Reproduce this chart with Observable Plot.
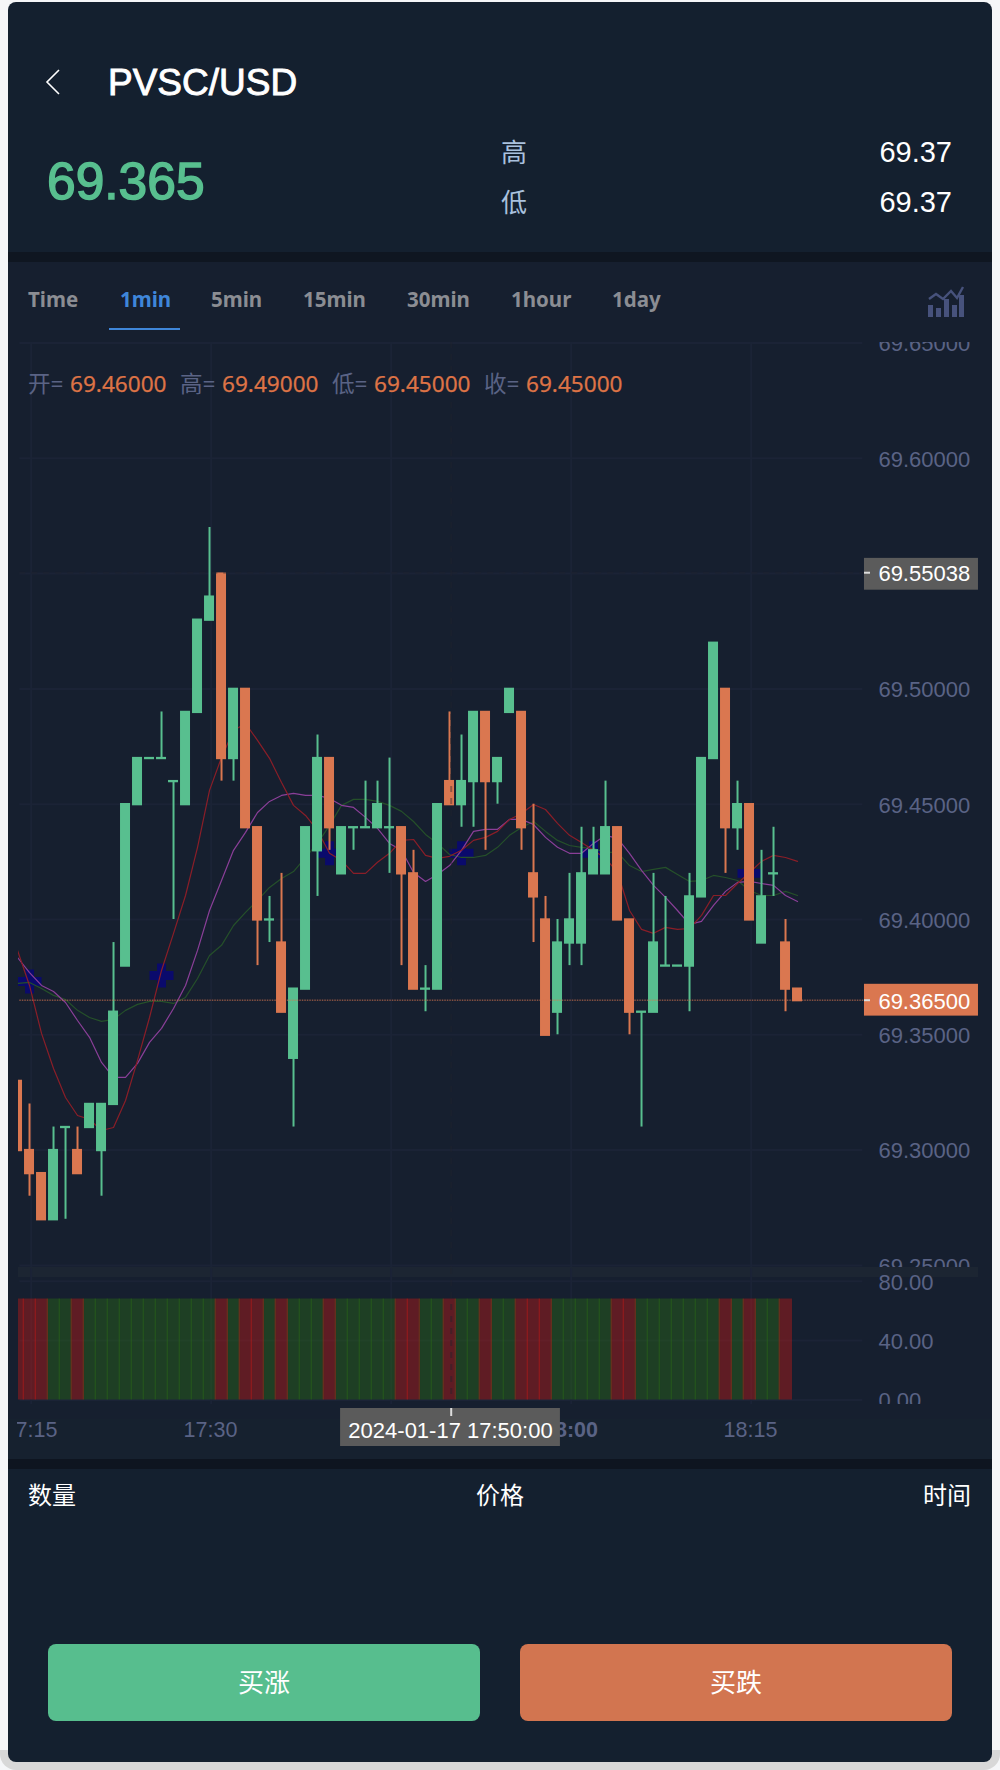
<!DOCTYPE html>
<html><head><meta charset="utf-8">
<script src="https://cdn.jsdelivr.net/npm/d3@7"></script>
<script src="https://cdn.jsdelivr.net/npm/@observablehq/plot@0.6"></script>
<style>
html,body{margin:0;padding:0;background:#f5f6f8;width:1000px;height:1770px;overflow:hidden}
#page{position:relative;width:1000px;height:1770px;font-family:"Liberation Sans","Noto Sans CJK SC",sans-serif;color:#fff;overflow:hidden}
.abs{position:absolute}
.t{position:absolute;transform:translateY(-50%);white-space:nowrap;line-height:1}
.tab{font-family:"Noto Sans","Noto Sans CJK SC";font-weight:700;font-size:20.5px;color:#8b8d93}
.o{font-family:"Noto Sans","Noto Sans CJK SC";font-size:22.6px;color:#dd7346;-webkit-text-stroke:.25px #dd7346}
.g{font-family:"Noto Sans","Noto Sans CJK SC";font-size:22.6px;color:#5a6385}
svg{overflow:hidden}
</style></head><body>
<div id="page">
<div class="abs" style="left:0;top:1750px;width:1000px;height:20px;background:#d8d8d8;border-radius:0 0 16px 16px"></div>
<div class="abs" id="card" style="left:8px;top:2px;width:984px;height:1760px;background:#14202f;border-radius:8px;overflow:hidden">
  <div class="abs" style="left:0;top:260px;width:984px;height:1197px;background:#161f2f"></div>
  <div class="abs" style="left:0;top:1417px;width:984px;height:40px;background:#16212f"></div>
  <div class="abs" style="left:0;top:250px;width:984px;height:10px;background:#0f1621"></div>
  <div class="abs" style="left:0;top:1457px;width:984px;height:10px;background:#0e1520"></div>
</div>
<svg class="abs" style="left:44px;top:68px" width="20" height="28" viewBox="0 0 20 28"><path d="M15 2 L3 14 L15 26" fill="none" stroke="#fff" stroke-width="1.6"/></svg>
<div class="t" style="left:108px;top:82px;font-size:37px;font-weight:400;-webkit-text-stroke:.9px #fff">PVSC/USD</div>
<div class="t" style="left:47px;top:182px;font-size:51.5px;font-weight:400;color:#58bf8f;-webkit-text-stroke:1.5px #58bf8f">69.365</div>
<div class="t" style="left:501px;top:151px;font-size:26px;color:#a9c1de;font-family:'Noto Sans CJK SC'">高</div>
<div class="t" style="left:501px;top:201px;font-size:26px;color:#a9c1de;font-family:'Noto Sans CJK SC'">低</div>
<div class="t" style="right:48px;top:152px;font-size:29px">69.37</div>
<div class="t" style="right:48px;top:202px;font-size:29px">69.37</div>
<div class="t tab" style="left:28px;top:299px">Time</div>
<div class="t tab" style="left:120px;top:299px;color:#3f86d9">1min</div>
<div class="t tab" style="left:211px;top:299px">5min</div>
<div class="t tab" style="left:303px;top:299px">15min</div>
<div class="t tab" style="left:407px;top:299px">30min</div>
<div class="t tab" style="left:511px;top:299px">1hour</div>
<div class="t tab" style="left:612px;top:299px">1day</div>
<div class="abs" style="left:109px;top:328px;width:71px;height:2px;background:#3f86d9"></div>
<svg class="abs" style="left:926px;top:284px" width="40" height="36" viewBox="0 0 40 36"><g fill="#47527c"><rect x="2" y="21" width="5" height="12"/><rect x="10" y="24" width="5" height="9"/><rect x="18" y="15" width="5" height="18"/><rect x="26" y="21" width="5" height="12"/><rect x="33" y="11" width="5" height="22"/></g><path d="M3 15 L10 10 L17 15 L25 7 L31 14 L37 3" fill="none" stroke="#47527c" stroke-width="2.4"/></svg>
<div id="main"></div><div id="band" class="abs" style="left:18px;top:1267px;width:960px;height:10px;background:#1c2532"></div><div id="sub"></div><div id="time"></div>
<div class="t g" style="left:28px;top:384px">开=</div><div class="t o" style="left:70px;top:384px">69.46000</div>
<div class="t g" style="left:180px;top:384px">高=</div><div class="t o" style="left:222px;top:384px">69.49000</div>
<div class="t g" style="left:332px;top:384px">低=</div><div class="t o" style="left:374px;top:384px">69.45000</div>
<div class="t g" style="left:484px;top:384px">收=</div><div class="t o" style="left:526px;top:384px">69.45000</div>
<div class="t" style="left:28px;top:1494px;font-size:24px;font-family:'Noto Sans CJK SC'">数量</div>
<div class="t" style="left:476px;top:1494px;font-size:24px;font-family:'Noto Sans CJK SC'">价格</div>
<div class="t" style="right:29px;top:1494px;font-size:24px;font-family:'Noto Sans CJK SC'">时间</div>
<div class="abs" style="left:48px;top:1644px;width:432px;height:77px;background:#57be8e;border-radius:8px;display:flex;align-items:center;justify-content:center;font-size:26px;padding-bottom:0;font-family:'Noto Sans CJK SC'"><span style="position:relative;top:-2px">买涨</span></div>
<div class="abs" style="left:520px;top:1644px;width:432px;height:77px;background:#d27550;border-radius:8px;display:flex;align-items:center;justify-content:center;font-size:26px;font-family:'Noto Sans CJK SC'"><span style="position:relative;top:-2px">买跌</span></div>
</div>
<script>
// minutes after 17:15 for each candle index start at -1
const opens=[69.33,69.30,69.29,69.27,69.31,69.30,69.31,69.30,69.32,69.38,69.45,69.47,69.47,69.46,69.45,69.49,69.53,69.55,69.47,69.50,69.44,69.40,69.39,69.34,69.37,69.43,69.47,69.42,69.44,69.44,69.44,69.44,69.44,69.42,69.37,69.37,69.46,69.45,69.46,69.49,69.46,69.49,69.49,69.42,69.40,69.36,69.39,69.39,69.42,69.42,69.44,69.40,69.36,69.36,69.38,69.38,69.38,69.41,69.47,69.50,69.44,69.45,69.39,69.42,69.39,69.37];
const closes=[69.30,69.29,69.27,69.30,69.31,69.29,69.32,69.32,69.36,69.45,69.47,69.47,69.47,69.46,69.49,69.53,69.54,69.47,69.50,69.44,69.40,69.40,69.36,69.37,69.44,69.47,69.44,69.44,69.44,69.44,69.45,69.44,69.42,69.37,69.37,69.45,69.45,69.46,69.49,69.46,69.47,69.50,69.44,69.41,69.35,69.39,69.40,69.42,69.43,69.44,69.40,69.36,69.36,69.39,69.38,69.38,69.41,69.47,69.52,69.44,69.45,69.40,69.41,69.42,69.37,69.365];
const highs=[69.33,69.32,69.29,69.31,69.31,69.31,69.32,69.32,69.39,69.45,69.47,69.47,69.49,69.46,69.49,69.53,69.57,69.55,69.50,69.50,69.44,69.41,69.42,69.37,69.44,69.48,69.47,69.44,69.44,69.46,69.46,69.47,69.44,69.43,69.38,69.45,69.49,69.48,69.49,69.49,69.47,69.50,69.49,69.45,69.41,69.40,69.42,69.44,69.44,69.46,69.44,69.40,69.36,69.42,69.41,69.38,69.42,69.47,69.52,69.50,69.46,69.45,69.43,69.44,69.40,69.37];
const lows=[69.30,69.28,69.27,69.27,69.27,69.29,69.31,69.28,69.32,69.38,69.45,69.47,69.47,69.40,69.45,69.49,69.53,69.46,69.46,69.44,69.38,69.39,69.36,69.31,69.37,69.41,69.43,69.42,69.43,69.44,69.44,69.42,69.38,69.37,69.36,69.37,69.45,69.44,69.44,69.43,69.45,69.49,69.43,69.39,69.35,69.35,69.38,69.38,69.42,69.42,69.40,69.35,69.31,69.36,69.38,69.38,69.36,69.41,69.47,69.42,69.43,69.40,69.39,69.41,69.36,69.365];
const maRed=[69.3866,69.3714,69.3506,69.3354,69.3228,69.3150,69.3133,69.3085,69.3098,69.3215,69.3389,69.3575,69.3779,69.3940,69.4104,69.4313,69.4560,69.4703,69.4820,69.4850,69.4777,69.4699,69.4594,69.4495,69.4451,69.4386,69.4287,69.4256,69.4200,69.4200,69.4248,69.4287,69.4343,69.4347,69.4278,69.4265,69.4274,69.4300,69.4343,69.4356,69.4382,69.4434,69.4460,69.4499,69.4477,69.4417,69.4365,69.4334,69.4300,69.4265,69.4204,69.4039,69.3957,69.3940,69.3966,69.3957,69.3961,69.4018,69.4104,69.4104,69.4156,69.4204,69.4252,69.4278,69.4269,69.4252];
const maPurple=[69.3835,69.3770,69.3714,69.3688,69.3640,69.3562,69.3489,69.3380,69.3315,69.3315,69.3376,69.3467,69.3528,69.3614,69.3714,69.3866,69.4039,69.4169,69.4300,69.4378,69.4464,69.4512,69.4538,69.4547,69.4538,69.4538,69.4525,69.4495,69.4486,69.4443,69.4395,69.4330,69.4300,69.4204,69.4165,69.4195,69.4234,69.4300,69.4382,69.4391,69.4391,69.4434,69.4434,69.4412,69.4356,69.4313,69.4287,69.4287,69.4330,69.4365,69.4352,69.4287,69.4213,69.4148,69.4096,69.4039,69.3979,69.3992,69.4061,69.4122,69.4161,69.4165,69.4156,69.4148,69.4104,69.4078];
const maGreen=[69.3723,69.3727,69.3701,69.3671,69.3653,69.3606,69.3575,69.3558,69.3567,69.3606,69.3632,69.3645,69.3645,69.3636,69.3662,69.3744,69.3844,69.3888,69.3974,69.4031,69.4083,69.4139,69.4178,69.4208,69.4269,69.4330,69.4408,69.4495,69.4521,69.4521,69.4512,69.4495,69.4469,69.4425,69.4369,69.4330,69.4282,69.4269,69.4269,69.4278,69.4313,69.4365,69.4399,69.4425,69.4382,69.4343,69.4321,69.4313,69.4308,69.4291,69.4291,69.4234,69.4208,69.4217,69.4226,69.4195,69.4165,69.4169,69.4191,69.4182,69.4169,69.4126,69.4104,69.4104,69.4122,69.4104];
const indicator=[68,68,68,68,68,68,68,68,68,68,68,68,68,68,68,68,68,68,68,68,68,68,68,68,68,68,68,68,68,68,68,68,68,68,68,68,68,68,68,68,68,68,68,68,68,68,68,68,68,68,68,68,68,68,68,68,68,68,68,68,68,68,68,68,68];
const crossIndex=[0,11,25,36,47,60];
const crossPrice=[69.3731,69.3757,69.4287,69.4287,69.4287,69.4200];
const priceTicks=[69.25,69.30,69.35,69.40,69.45,69.50,69.55,69.60,69.65];
const priceLabels=[69.25,69.30,69.35,69.40,69.45,69.50,69.60,69.65];
const indicatorTicks=[0,40,80];
const timeTicks=[0,15,30,45,60];
const timeLabels=["17:15","17:30","17:45","18:00","18:15"];
const crosshairMinute=35, crosshairPrice=69.55038, lastPrice=69.365;
const crosshairLabel="2024-01-17 17:50:00";

const UP="#58bf8f",DOWN="#da7750",GRID="#1b2336",AX="#5a6385",NAVY="#0a0a6c",CROSS="#20242e";
const SHIFT=0.14, FONT='"Liberation Sans","Noto Sans CJK SC",sans-serif';
const candles=opens.map((o,k)=>({i:k-1-SHIFT,o,c:closes[k],h:highs[k],l:lows[k]}));
const isUp=d=>d.c>=d.o;
const xDomain=[-1,79];
const place=(left,top)=>({position:"absolute",left:left+"px",top:top+"px",background:"transparent",fontFamily:FONT,overflow:"hidden"});
const series=(vals)=>vals.map((v,k)=>({i:k-1-SHIFT,v}));
const gridEnd=69.3, gridStart=-0.95, tagA=69.44, tagB=78.94, labelX=70.6;
const plus={draw(c,size){const r=Math.sqrt(size/Math.PI),t=r/2.7;
  c.moveTo(-t,-r);c.lineTo(t,-r);c.lineTo(t,-t);c.lineTo(r,-t);c.lineTo(r,t);c.lineTo(t,t);c.lineTo(t,r);c.lineTo(-t,r);c.lineTo(-t,t);c.lineTo(-r,t);c.lineTo(-r,-t);c.lineTo(-t,-t);c.closePath();}};

const candleMarks=(color,test)=>[
  Plot.ruleX(candles,{filter:test,x:"i",y1:"l",y2:"h",stroke:color,strokeWidth:2}),
  Plot.rect(candles,{filter:test,x1:d=>d.i-5/12,x2:d=>d.i+5/12,y1:d=>Math.min(d.o,d.c)-0.0007,y2:d=>Math.max(d.o,d.c)+0.0003,fill:color})
];
const main=Plot.plot({
  width:962,height:926,marginTop:0,marginBottom:0,marginLeft:0,marginRight:102,
  style:place(18,342),
  x:{domain:xDomain,range:[0.7,960.7],axis:null},
  y:{domain:[69.25,69.65],range:[922.9,0.5],axis:null},
  marks:[
    Plot.ruleY(priceTicks,{x1:gridStart,x2:gridEnd,stroke:GRID,strokeWidth:2}),
    Plot.ruleX(timeTicks,{stroke:GRID,strokeWidth:2}),
    Plot.axisY({anchor:"right",ticks:priceLabels,tickFormat:d=>d.toFixed(5),tickSize:0,tickPadding:0,label:null,fontSize:22,fill:AX,textAnchor:"start",dy:1.3}),
    Plot.dot(crossIndex.map((c,k)=>({i:c-SHIFT,v:crossPrice[k]})),{x:"i",y:"v",r:12,symbol:plus,fill:NAVY,stroke:"none"}),
    Plot.line(series(maGreen),{x:"i",y:"v",stroke:"#25502a",strokeWidth:1.2}),
    Plot.line(series(maPurple),{x:"i",y:"v",stroke:"#8a3f98",strokeWidth:1.2}),
    Plot.line(series(maRed),{x:"i",y:"v",stroke:"#8a1e28",strokeWidth:1.2}),
    ...candleMarks(UP,isUp),
    ...candleMarks(DOWN,d=>!isUp(d)),
    Plot.ruleY([lastPrice],{x1:gridStart,x2:tagA,stroke:"#da7750",strokeOpacity:.55,strokeWidth:1.4,strokeDasharray:"1.5,1"}),
    Plot.ruleY([crosshairPrice],{x1:gridStart,x2:tagA,stroke:CROSS,strokeOpacity:.4,strokeWidth:2,strokeDasharray:"6,6"}),
    Plot.ruleX([crosshairMinute],{stroke:CROSS,strokeOpacity:.4,strokeWidth:2,strokeDasharray:"6,6"}),
    Plot.rect([crosshairPrice],{x1:tagA,x2:tagB,y1:69.5428,y2:69.5566,fill:"#5b5b5b"}),
    Plot.rect([lastPrice],{x1:tagA,x2:tagB,y1:69.3581,y2:69.3719,fill:"#da7750"}),
    Plot.ruleY([crosshairPrice,lastPrice],{x1:tagA,x2:tagA+0.5,stroke:"#ddd",strokeWidth:2}),
    Plot.text([crosshairPrice,lastPrice],{x:labelX,y:d=>d,text:d=>d.toFixed(5),fill:"#fff",fontSize:22,textAnchor:"start",dy:1.3})
  ]
});
document.getElementById("main").appendChild(main);

const stripes=indicator.map((v,k)=>({i:k-1-SHIFT,v,up:isUp(candles[k])}));
const sub=Plot.plot({
  width:962,height:136,marginTop:0,marginBottom:0,marginLeft:0,marginRight:102,
  style:place(18,1268),
  x:{domain:xDomain,range:[0.7,960.7],axis:null},
  y:{domain:[0,80],range:[131.5,12.7],axis:null},
  marks:[
    Plot.ruleY(indicatorTicks,{x1:gridStart,x2:gridEnd,stroke:GRID,strokeWidth:2}),
    Plot.ruleX(timeTicks,{stroke:GRID,strokeWidth:2}),
    Plot.axisY({anchor:"right",ticks:indicatorTicks,tickFormat:d=>d.toFixed(2),tickSize:0,tickPadding:0,label:null,fontSize:22,fill:AX,textAnchor:"start",dy:1.3}),
    Plot.rect(stripes,{filter:d=>d.up,x1:d=>d.i-6.4/12,x2:d=>d.i+7/12,y1:0,y2:"v",fill:"#2a7113",fillOpacity:.4}),
    Plot.rect(stripes,{filter:d=>!d.up,x1:d=>d.i-6.4/12,x2:d=>d.i+7/12,y1:0,y2:"v",fill:"#cc1814",fillOpacity:.4}),
    Plot.ruleX([crosshairMinute],{stroke:CROSS,strokeOpacity:.4,strokeWidth:2,strokeDasharray:"6,6"})
  ]
});
document.getElementById("sub").appendChild(sub);

const time=Plot.plot({
  width:963,height:55,marginTop:0,marginBottom:38,marginLeft:0,marginRight:0,
  style:place(17,1404),
  x:{domain:xDomain,range:[1,961],axis:null},
  y:{domain:[0,55],range:[0,55],axis:null},
  marks:[
    Plot.axisX({anchor:"bottom",ticks:[timeTicks[0],timeTicks[1],timeTicks[4]],tickFormat:d=>timeLabels[timeTicks.indexOf(d)],tickSize:0,tickPadding:0,label:null,fontSize:21.5,fill:AX}),
    Plot.axisX({anchor:"bottom",ticks:[timeTicks[3]],tickFormat:()=>timeLabels[3],tickSize:0,tickPadding:0,label:null,fontSize:21.5,fill:AX,fontWeight:"bold"}),
    Plot.rect([crosshairMinute],{x1:25.84,x2:44.16,y1:4,y2:42,fill:"#5b5b5b"}),
    Plot.ruleX([crosshairMinute],{dx:0.7,y1:4,y2:12,stroke:"#ddd",strokeWidth:2}),
    Plot.text([crosshairLabel],{x:crosshairMinute,y:26,text:d=>d,fill:"#fff",fontSize:22})
  ]
});
document.getElementById("time").appendChild(time);
</script>
</body></html>
